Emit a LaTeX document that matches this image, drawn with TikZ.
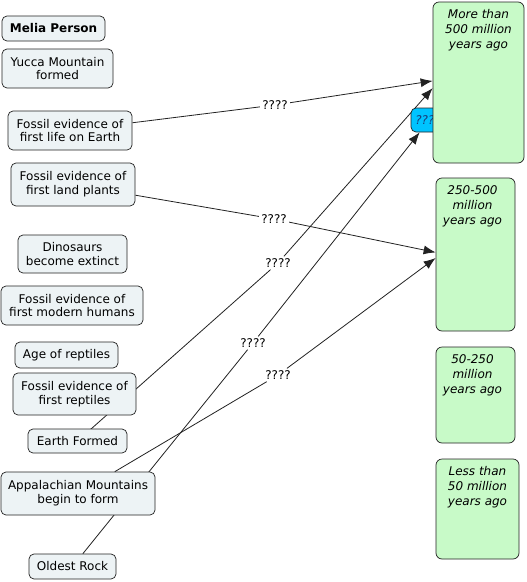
\documentclass[tikz,border=0pt]{standalone}
\usepackage{fontspec}
\setmainfont{DejaVu Sans}
\usetikzlibrary{arrows.meta}
\definecolor{boxfill}{HTML}{EDF3F5}
\definecolor{greenfill}{HTML}{C8FAC8}
\definecolor{cyanfill}{HTML}{00C4FF}
\definecolor{cyantext}{HTML}{1A3C78}
\definecolor{linecol}{HTML}{222222}
\pgfdeclarelayer{bg}
\pgfsetlayers{bg,main}
\begin{document}
\begin{tikzpicture}[x=1pt,y=-1pt,
  box/.style={draw=linecol, fill=boxfill, rounded corners=5pt, align=center, inner sep=1pt,
    font=\fontsize{12}{13.8}\selectfont, line width=0.7pt},
  gbox/.style={draw=linecol, fill=greenfill, rounded corners=6pt, line width=0.7pt, inner sep=0pt},
  gtext/.style={anchor=north, align=center, inner sep=3pt, yshift=-5pt, font=\fontsize{12}{14.8}\selectfont\itshape},
  qbox/.style={draw=linecol, fill=cyanfill, rounded corners=5pt, line width=0.7pt, inner sep=1pt,
    text=cyantext, font=\fontsize{12}{13}\selectfont\itshape},
  lbl/.style={fill=white, inner sep=2pt, font=\fontsize{12}{13}\selectfont},
  link/.style={draw=linecol, line width=0.8pt},
  arr/.style={link, -{Latex[length=12pt,width=9pt]}}
]
\useasboundingbox (0,0) rectangle (527,582);
\begin{pgfonlayer}{bg}
  \fill[white] (0,0) rectangle (527,582);
\end{pgfonlayer}

% left concept boxes
\node[box, minimum width=103pt, minimum height=25pt, font=\fontsize{12}{13.8}\selectfont\bfseries] (melia) at (53.5,28.5) {Melia Person};
\node[box, minimum width=111pt, minimum height=39pt] (yucca) at (57.5,68.5) {Yucca Mountain\\formed};
\node[box, minimum width=124pt, minimum height=39pt] (life) at (70,130.5) {Fossil evidence of\\first life on Earth};
\node[box, minimum width=124pt, minimum height=43pt] (plants) at (73,184.5) {Fossil evidence of\\first land plants};
\node[box, minimum width=109pt, minimum height=38pt] (dino) at (72.5,254) {Dinosaurs\\become extinct};
\node[box, minimum width=142pt, minimum height=39pt] (humans) at (72,305.5) {Fossil evidence of\\first modern humans};
\node[box, minimum width=103pt, minimum height=26pt] (agerep) at (66.5,355) {Age of reptiles};
\node[box, minimum width=123pt, minimum height=42pt] (reptiles) at (74.5,394) {Fossil evidence of\\first reptiles};
\node[box, minimum width=99pt, minimum height=24pt] (earth) at (77.5,441) {Earth Formed};
\node[box, minimum width=154pt, minimum height=43pt] (appal) at (78,493.5) {Appalachian Mountains\\begin to form};
\node[box, minimum width=87pt, minimum height=25pt] (oldest) at (72.5,566.5) {Oldest Rock};

% partly hidden cyan box
\node[qbox, minimum width=34pt, minimum height=24pt] (q) at (428,120) {????};

% green time boxes
\node[gbox, minimum width=91pt, minimum height=161pt,
  label={[gtext]north:{More than\\500 million\\years ago}}] (g1) at (478.5,82.5) {};
\node[gbox, minimum width=79pt, minimum height=153pt,
  label={[gtext,xshift=-3pt]north:{250-500\\million\\years ago}}] (g2) at (475.5,254.5) {};
\node[gbox, minimum width=79pt, minimum height=96pt,
  label={[gtext,xshift=-3pt]north:{50-250\\million\\years ago}}] (g3) at (475.5,395) {};
\node[gbox, minimum width=83pt, minimum height=100pt,
  label={[gtext]north:{Less than\\50 million\\years ago}}] (g4) at (477.5,509) {};

% linking phrases
\node[lbl] (l1) at (275,105) {????};
\node[lbl] (l2) at (274,219) {????};
\node[lbl] (l3) at (278,263) {????};
\node[lbl] (l4) at (253,343) {????};
\node[lbl] (l5) at (278,375) {????};

\begin{pgfonlayer}{bg}
  \draw[link] (life) -- (l1);
  \draw[arr] (l1) -- (g1.178);
  \draw[link] (plants) -- (l2);
  \draw[arr] (l2) -- (g2.177);
  \draw[link] (earth.center) -- (l3);
  \draw[arr] (l3) -- (g1.187);
  \draw[link] (oldest) -- (l4);
  \draw[arr] (l4) -- (q.236);
  \draw[link] (appal) -- (l5);
  \draw[arr] (l5) -- (g2.185);
\end{pgfonlayer}
\end{tikzpicture}
\end{document}
